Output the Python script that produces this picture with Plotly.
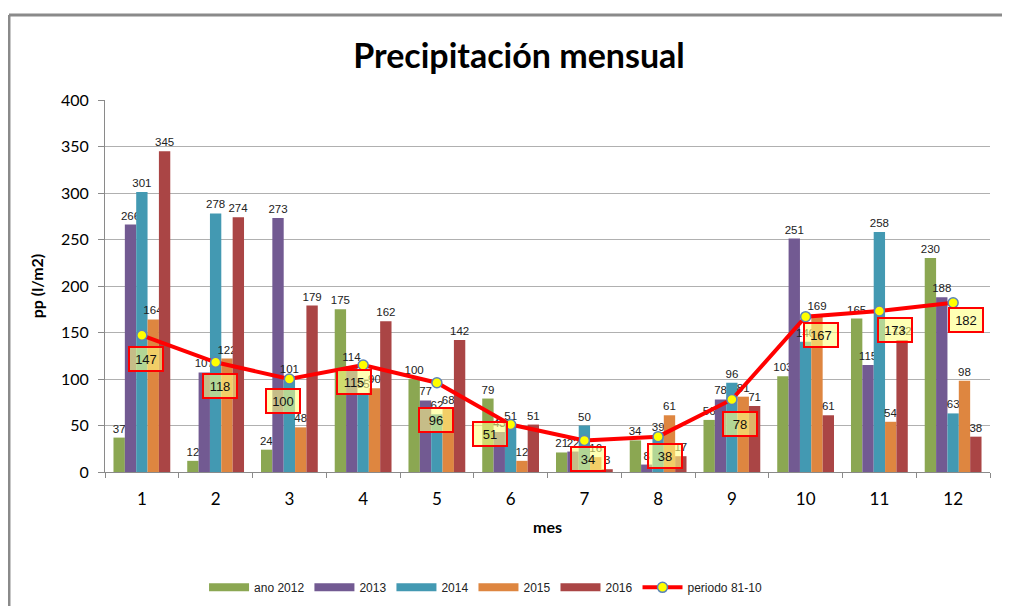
import plotly.graph_objects as go

months = ["1", "2", "3", "4", "5", "6", "7", "8", "9", "10", "11", "12"]
series_names = ["ano 2012", "2013", "2014", "2015", "2016"]
y2012 = [37, 12, 24, 175, 100, 79, 21, 34, 56, 103, 165, 230]
y2013 = [266, 107, 273, 114, 77, 43, 22, 8, 78, 251, 115, 188]
y2014 = [301, 278, 101, 85, 62, 51, 50, 39, 96, 140, 258, 63]
y2015 = [164, 122, 48, 90, 68, 12, 16, 61, 81, 169, 54, 98]
y2016 = [345, 274, 179, 162, 142, 51, 3, 17, 71, 61, 142, 38]
periodo = [147, 118, 100, 115, 96, 51, 34, 38, 78, 167, 173, 182]
periodo_name = "periodo 81-10"

colors = ["#8BA752", "#725A92", "#4399B2", "#DE8640", "#AA4545"]
# label box pixel offsets (layout only)
lab_dx = [4, 4, -6, -9, -1, -21, 4, 7, 8, 15, 16, 13]
lab_dy = [-24, -24, -22, -17, -37, -9, -19, -19, -25, -18, -19, -17]

fig = go.Figure()
for name, vals, col in zip(series_names, [y2012, y2013, y2014, y2015, y2016], colors):
    fig.add_trace(go.Bar(
        x=months, y=vals, name=name, marker=dict(color=col, line=dict(width=0)),
        text=[str(v) for v in vals], textposition="outside", constraintext="none",
        textfont=dict(family="Liberation Sans", size=11.5, color="#222"),
        cliponaxis=False, showlegend=False,
    ))
    # legend proxy (wide rectangle like the original)
    fig.add_trace(go.Scatter(x=[months[0]], y=[None], mode="lines", name=name,
                             line=dict(color=col, width=8), showlegend=True))

fig.add_trace(go.Scatter(
    x=months, y=periodo, name=periodo_name, mode="lines+markers",
    line=dict(color="#FF0000", width=4),
    marker=dict(color="#FFFF00", size=10, line=dict(color="#5B84B8", width=1.5)),
    cliponaxis=False,
))

for i, (v, dx, dy) in enumerate(zip(periodo, lab_dx, lab_dy)):
    fig.add_annotation(x=i, y=v, text=str(v), showarrow=False, xshift=dx, yshift=dy,
                       font=dict(family="Liberation Sans", size=13, color="#111"),
                       bgcolor="rgba(255,255,130,0.6)", bordercolor="#FF0000",
                       borderwidth=2, borderpad=3, width=26, height=16)

# outer chart frame (left and top edges visible)
fig.add_shape(type="line", xref="paper", yref="paper", x0=-0.1085, x1=1.05, y0=1.2285, y1=1.2285,
              line=dict(color="#8a8a8a", width=3))
fig.add_shape(type="line", xref="paper", yref="paper", x0=-0.1085, x1=-0.1085, y0=-0.4, y1=1.2285,
              line=dict(color="#8a8a8a", width=3))

fig.update_layout(
    width=1002, height=598,
    margin=dict(l=97, r=20, t=92, b=134, autoexpand=False),
    paper_bgcolor="white", plot_bgcolor="white",
    barmode="group", bargap=0.23, bargroupgap=0,
    title=dict(text="<b>Precipitación mensual</b>", x=0.51, xanchor="center", y=0.92, yanchor="middle",
               font=dict(family="Lato", size=34, color="black")),
    font=dict(family="Lato", color="black"),
    legend=dict(orientation="h", x=0.43, xanchor="center", y=-0.31, yanchor="middle",
                font=dict(family="Liberation Sans", size=12, color="#222"),
                itemwidth=40, traceorder="normal"),
    xaxis=dict(type="category", range=[-0.5, 11.5], showline=True, linecolor="#8a8a8a", linewidth=1,
               ticks="outside", tickson="boundaries", ticklen=5, tickcolor="#8a8a8a",
               ticklabelstandoff=12,
               tickfont=dict(family="Lato", size=17), showgrid=False,
               title=dict(text="<b>mes</b>", font=dict(family="Lato", size=16), standoff=13)),
    yaxis=dict(range=[0, 400], dtick=50, showline=True, linecolor="#8a8a8a", linewidth=1,
               ticks="outside", ticklen=6, tickcolor="#8a8a8a", ticklabelstandoff=6,
               gridcolor="#b0b0b0", gridwidth=1, zeroline=False,
               tickfont=dict(family="Lato", size=16),
               title=dict(text="<b>pp (l/m2)</b>", font=dict(family="Lato", size=16), standoff=13)),
)

fig.write_html("out.html")
